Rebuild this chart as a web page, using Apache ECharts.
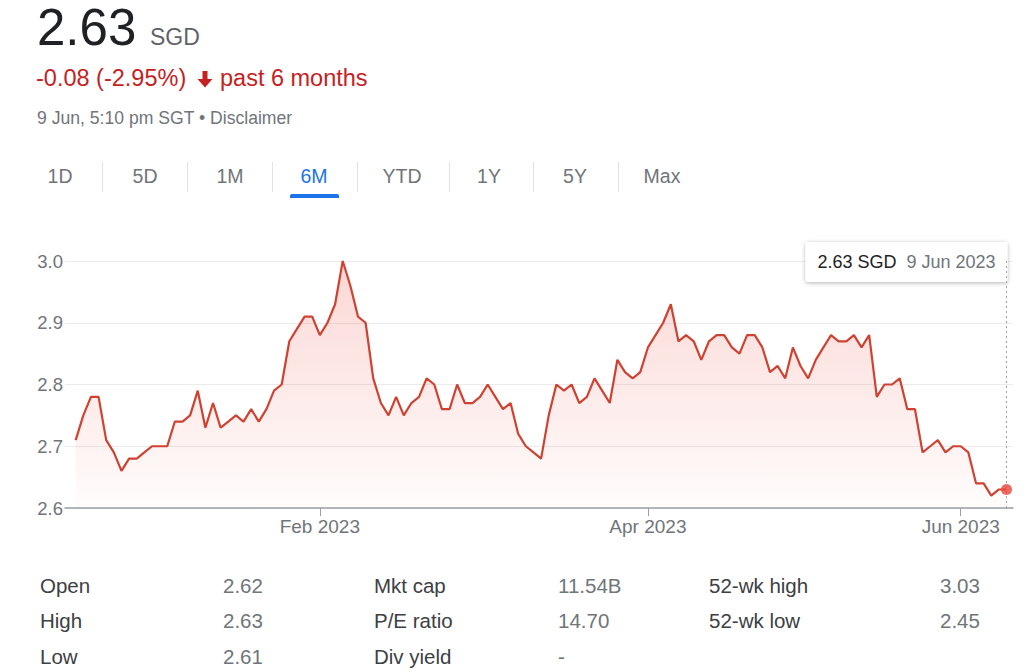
<!DOCTYPE html>
<html>
<head>
<meta charset="utf-8">
<script src="https://cdn.jsdelivr.net/npm/echarts/dist/echarts.min.js"></script>
<style>
  html, body { margin: 0; padding: 0; background: #fff; }
  body { width: 1024px; height: 672px; position: relative; overflow: hidden; font-family: "Liberation Sans", Arial, sans-serif; }
  #chart { position: absolute; left: 0; top: 0; width: 1024px; height: 672px; }
  #overlay { position: absolute; left: 0; top: 0; width: 1024px; height: 672px; pointer-events: none; }
  #overlay text { font-family: "Liberation Sans", Arial, sans-serif; }
</style>
</head>
<body>
<div id="chart"></div>
<svg id="overlay" width="1024" height="672" xmlns="http://www.w3.org/2000/svg"></svg>
<script>
// ---------------- data ----------------
const currency = 'SGD';
const headerPrice = '2.63';
const headerChange = '-0.08 (-2.95%)';
const headerPeriod = 'past 6 months';
const headerTime = '9 Jun, 5:10 pm SGT \u2022 Disclaimer';

const tabs = ['1D', '5D', '1M', '6M', 'YTD', '1Y', '5Y', 'Max'];
const activeTab = '6M';

// daily closes, 13 Dec 2022 .. 9 Jun 2023 (trading days)
const closes = [
  2.71, 2.75, 2.78, 2.78, 2.71, 2.69, 2.66, 2.68, 2.68, 2.69,
  2.70, 2.70, 2.70, 2.74, 2.74, 2.75, 2.79, 2.73, 2.77, 2.73,
  2.74, 2.75, 2.74, 2.76, 2.74, 2.76, 2.79, 2.80, 2.87, 2.89,
  2.91, 2.91, 2.88, 2.90, 2.93, 3.00, 2.96, 2.91, 2.90, 2.81,
  2.77, 2.75, 2.78, 2.75, 2.77, 2.78, 2.81, 2.80, 2.76, 2.76,
  2.80, 2.77, 2.77, 2.78, 2.80, 2.78, 2.76, 2.77, 2.72, 2.70,
  2.69, 2.68, 2.75, 2.80, 2.79, 2.80, 2.77, 2.78, 2.81, 2.79,
  2.77, 2.84, 2.82, 2.81, 2.82, 2.86, 2.88, 2.90, 2.93, 2.87,
  2.88, 2.87, 2.84, 2.87, 2.88, 2.88, 2.86, 2.85, 2.88, 2.88,
  2.86, 2.82, 2.83, 2.81, 2.86, 2.83, 2.81, 2.84, 2.86, 2.88,
  2.87, 2.87, 2.88, 2.86, 2.88, 2.78, 2.80, 2.80, 2.81, 2.76,
  2.76, 2.69, 2.70, 2.71, 2.69, 2.70, 2.70, 2.69, 2.64, 2.64,
  2.62, 2.63, 2.63
];
const firstDay = '2022-12-13';
const marketHolidays = ['2022-12-26', '2023-01-02', '2023-01-23', '2023-01-24', '2023-04-07', '2023-05-01'];
const monthNames = ['Jan', 'Feb', 'Mar', 'Apr', 'May', 'Jun', 'Jul', 'Aug', 'Sep', 'Oct', 'Nov', 'Dec'];
const labelMonths = ['2023-02', '2023-04', '2023-06'];
const yTicks = [2.6, 2.7, 2.8, 2.9, 3.0];

const statLabels1 = ['Open', 'High', 'Low'];
const statValues1 = ['2.62', '2.63', '2.61'];
const statLabels2 = ['Mkt cap', 'P/E ratio', 'Div yield'];
const statValues2 = ['11.54B', '14.70', '-'];
const statLabels3 = ['52-wk high', '52-wk low'];
const statValues3 = ['3.03', '2.45'];

// ---------------- trading-day calendar ----------------
const dates = [];
(function () {
  const d = new Date(firstDay + 'T00:00:00Z');
  while (dates.length < closes.length) {
    const iso = d.toISOString().slice(0, 10);
    const wd = d.getUTCDay();
    if (wd !== 0 && wd !== 6 && marketHolidays.indexOf(iso) < 0) dates.push(iso);
    d.setUTCDate(d.getUTCDate() + 1);
  }
})();
const labelIdx = labelMonths.map(m => dates.findIndex(s => s.startsWith(m)));
function monthLabel(i) {
  const s = dates[i];
  return monthNames[+s.slice(5, 7) - 1] + ' ' + s.slice(0, 4);
}
function longDate(i) {
  const s = dates[i];
  return (+s.slice(8, 10)) + ' ' + monthNames[+s.slice(5, 7) - 1] + ' ' + s.slice(0, 4);
}
const seriesData = closes.map((v, i) => [i, v]);
const lastIdx = closes.length - 1;
const lastVal = closes[lastIdx];

// ---------------- chart ----------------
const chart = echarts.init(document.getElementById('chart'), null, { renderer: 'svg' });
const FONT = '"Liberation Sans", Arial, sans-serif';
chart.setOption({
  animation: false,
  grid: { left: 65, right: 11, top: 261, bottom: 164 },
  xAxis: {
    type: 'value',
    min: -1.4,
    max: lastIdx + 0.85,
    splitLine: { show: false },
    axisLine: { show: true, lineStyle: { color: '#9aa0a6', width: 1.5 } },
    axisTick: { show: true, customValues: labelIdx, length: 8, lineStyle: { color: '#9aa0a6', width: 1 } },
    axisLabel: {
      customValues: labelIdx,
      formatter: v => monthLabel(Math.round(v)),
      color: '#70757a', fontSize: 19, fontFamily: FONT, margin: 9
    }
  },
  yAxis: {
    type: 'value',
    min: yTicks[0],
    max: yTicks[yTicks.length - 1],
    interval: 0.1,
    axisLine: { show: false },
    axisTick: { show: false },
    splitLine: { show: true, lineStyle: { color: '#ebebeb', width: 1 } },
    axisLabel: { formatter: v => v.toFixed(1), color: '#70757a', fontSize: 18.5, fontFamily: FONT, margin: 2 }
  },
  series: [
    {
      type: 'line',
      data: seriesData,
      showSymbol: false,
      lineStyle: { color: '#cf4231', width: 2.2 },
      itemStyle: { color: '#cf4231' },
      areaStyle: {
        color: new echarts.graphic.LinearGradient(0, 0, 0, 1, [
          { offset: 0, color: 'rgba(234,67,53,0.30)' },
          { offset: 1, color: 'rgba(234,67,53,0.02)' }
        ])
      },
      markLine: {
        silent: true,
        symbol: ['none', 'none'],
        label: { show: false },
        lineStyle: { type: [2, 3], color: '#9aa0a6', width: 1 },
        data: [{ xAxis: lastIdx }]
      },
      z: 3
    },
    {
      type: 'scatter',
      data: [[lastIdx, lastVal]],
      symbol: 'circle',
      symbolSize: 11,
      itemStyle: { color: '#e8453c' },
      z: 5
    }
  ]
});

const pt = chart.convertToPixel({ gridIndex: 0 }, [lastIdx, lastVal]);
const boxRight = pt[0] + 1;
chart.setOption({
  graphic: [
    {
      type: 'group',
      left: boxRight - 202,
      top: 242,
      z: 100,
      children: [
        { type: 'rect', shape: { x: 0, y: 0, width: 202, height: 40, r: 2 },
          style: { fill: '#fff', shadowBlur: 4, shadowOffsetY: 1, shadowColor: 'rgba(0,0,0,0.3)' } },
        { type: 'text', x: 12, y: 20,
          style: { text: lastVal.toFixed(2) + ' ' + currency, fill: '#202124', font: '18px ' + FONT, verticalAlign: 'middle' } },
        { type: 'text', x: 101, y: 20,
          style: { text: longDate(lastIdx), fill: '#70757a', font: '18px ' + FONT, verticalAlign: 'middle' } }
      ]
    }
  ]
});

// ---------------- header, tabs, stats (real SVG text) ----------------
const NS = 'http://www.w3.org/2000/svg';
const svg = document.getElementById('overlay');
function el(tag, attrs, text) {
  const e = document.createElementNS(NS, tag);
  for (const k in attrs) e.setAttribute(k, attrs[k]);
  if (text != null) e.textContent = text;
  svg.appendChild(e);
  return e;
}
el('text', { x: 37, y: 45, 'font-size': 51, fill: '#202124' }, headerPrice);
el('text', { x: 150, y: 45, 'font-size': 23, fill: '#5f6368' }, currency);
el('text', { x: 36, y: 86, 'font-size': 23.5, fill: '#c5221f' }, headerChange);
el('path', { d: 'M202.5 71 H207.5 V79 H212.5 L205 87.5 L197.5 79 H202.5 Z', fill: '#c5221f' });
el('text', { x: 220, y: 86, 'font-size': 23.5, fill: '#c5221f' }, headerPeriod);
el('text', { x: 37, y: 124, 'font-size': 17.6, fill: '#70757a' }, headerTime);

const tabCenters = [60, 145, 230, 314, 402, 489, 575, 662];
const sepX = [102, 187, 272, 357, 449, 533, 618];
tabs.forEach((t, i) => {
  el('text', { x: tabCenters[i], y: 183, 'font-size': 19.5, 'text-anchor': 'middle',
    fill: t === activeTab ? '#1a73e8' : '#70757a' }, t);
});
sepX.forEach(x => el('line', { x1: x + 0.5, x2: x + 0.5, y1: 162, y2: 192, stroke: '#e3e3e3', 'stroke-width': 1 }));
const ai = tabs.indexOf(activeTab);
el('path', { d: `M${tabCenters[ai] - 24} 198 V196 Q${tabCenters[ai] - 24} 194 ${tabCenters[ai] - 22} 194 H${tabCenters[ai] + 23} Q${tabCenters[ai] + 25} 194 ${tabCenters[ai] + 25} 196 V198 Z`, fill: '#1a73e8' });

const rowY = [593, 628, 664];
function statCol(labels, values, lx, vx) {
  labels.forEach((l, i) => {
    el('text', { x: lx, y: rowY[i], 'font-size': 20.5, fill: '#3c4043' }, l);
    el('text', { x: vx, y: rowY[i], 'font-size': 20.5, fill: '#70757a' }, values[i]);
  });
}
statCol(statLabels1, statValues1, 40, 223);
statCol(statLabels2, statValues2, 374, 558);
statCol(statLabels3, statValues3, 709, 940);
</script>
</body>
</html>
